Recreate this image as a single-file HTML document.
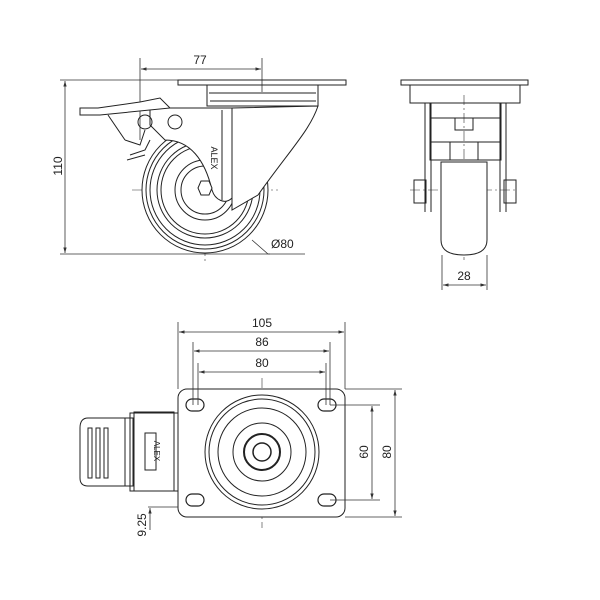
<!DOCTYPE html>
<html><head><style>body{margin:0;background:#fff}svg{display:block}text{font-family:"Liberation Sans",sans-serif;font-size:12px;fill:#222}</style></head>
<body>
<svg width="600" height="600" viewBox="0 0 600 600" xmlns="http://www.w3.org/2000/svg">
<defs>
<marker id="a" viewBox="0 0 10 10" refX="10" refY="5" markerWidth="7" markerHeight="7" orient="auto-start-reverse"><path d="M0,2 L10,5 L0,8z" fill="#333"/></marker>
</defs>
<g fill="none" stroke="#333" stroke-width="0.8">
<!-- side view dims -->
<line x1="140" y1="58" x2="140" y2="140"/><line x1="262" y1="58" x2="262" y2="92"/>
<line x1="141" y1="69" x2="261" y2="69" marker-start="url(#a)" marker-end="url(#a)"/>
<line x1="60" y1="80" x2="178" y2="80"/><line x1="60" y1="254" x2="270" y2="254"/>
<line x1="65" y1="81" x2="65" y2="253" marker-start="url(#a)" marker-end="url(#a)"/>
<polyline points="252,240 268,254 305,254"/>
<!-- centre lines -->
<g stroke-dasharray="10,3,2,3" stroke-width="0.6">
<line x1="132" y1="190" x2="278" y2="190"/><line x1="205" y1="120" x2="205" y2="262"/>
<line x1="464" y1="95" x2="464" y2="260"/><line x1="410" y1="190" x2="518" y2="190"/>
<line x1="262" y1="378" x2="262" y2="528"/><line x1="200" y1="452" x2="328" y2="452"/>
</g>
</g>
<g fill="none" stroke="#222" stroke-width="1">
<!-- side view -->
<rect x="178" y="80" width="168" height="5"/>
<rect x="207" y="85" width="111" height="21"/>
<line x1="209" y1="93" x2="316" y2="93"/><line x1="210" y1="101" x2="316" y2="101"/>
<circle cx="205" cy="190" r="63" fill="#fff"/>
<circle cx="205" cy="190" r="59"/><circle cx="205" cy="190" r="55"/>
<circle cx="205" cy="190" r="48"/><circle cx="205" cy="190" r="44"/>
<circle cx="205" cy="190" r="30"/><circle cx="205" cy="190" r="24"/>
<path d="M318,106 C310,130 290,150 258,195 L232,210 L232,108 Z" fill="#fff"/>
<path d="M150,108 L232,108 L232,198 C225,205 215,200 212,190 C205,160 190,140 165,140 L150,125 Z" fill="#fff"/>
<line x1="222" y1="110" x2="222" y2="200"/>
<polygon points="198,188 201,181 209,181 212,188 209,195 201,195" fill="#fff"/>
<circle cx="145" cy="122" r="7"/><circle cx="175" cy="122" r="7"/>
<path d="M80,108 L98,108 L140,102 L160,98 L170,108 L100,115 L80,115 Z" fill="#fff"/>
<path d="M108,115 L125,140 M125,140 L140,145 L145,130 M130,155 L145,150 L150,140"/>
<path d="M127,160 L145,155"/>
<!-- front view -->
<rect x="401" y="80" width="127" height="5"/>
<rect x="410" y="85" width="110" height="18"/>
<path d="M425,103 L425,212 M431,103 L431,212 M500,103 L500,212 M506,103 L506,212"/>
<rect x="430" y="103" width="71" height="57"/>
<line x1="430" y1="118" x2="501" y2="118"/><line x1="430" y1="142" x2="501" y2="142"/>
<rect x="455" y="118" width="18" height="12"/><rect x="450" y="142" width="28" height="18"/>
<path d="M441,162 L441,240 Q441,255 464,255 Q487,255 487,240 L487,162 Z" fill="#fff"/>
<rect x="414" y="180" width="12" height="23"/><rect x="504" y="180" width="12" height="23"/>
<!-- bottom view -->
<rect x="178" y="389" width="167" height="128" rx="9" fill="#fff"/>
<g stroke-width="1.2"><rect x="186" y="399" width="18" height="12" rx="6"/><rect x="318" y="399" width="18" height="12" rx="6"/>
<rect x="186" y="494" width="18" height="12" rx="6"/><rect x="318" y="494" width="18" height="12" rx="6"/></g>
<circle cx="262" cy="452" r="57"/><circle cx="262" cy="452" r="53"/><circle cx="262" cy="452" r="44"/>
<circle cx="262" cy="452" r="29"/><circle cx="262" cy="452" r="18" stroke-width="2"/><circle cx="262" cy="452" r="9" stroke-width="1.5"/>
<path d="M178,413 L130,413 L130,491 L178,491"/>
<path d="M125,418 L88,418 Q80,418 80,428 L80,478 Q80,486 88,486 L125,486 Z"/>
<rect x="88" y="428" width="4" height="50"/><rect x="96" y="428" width="4" height="50"/><rect x="104" y="428" width="4" height="50"/>
<rect x="125" y="418" width="8" height="68"/><rect x="134" y="412" width="40" height="79"/>
<rect x="145" y="433" width="11" height="37"/>
</g>
<g fill="none" stroke="#333" stroke-width="0.8">
<line x1="178" y1="322" x2="178" y2="389"/><line x1="345" y1="322" x2="345" y2="389"/>
<line x1="179" y1="332" x2="344" y2="332" marker-start="url(#a)" marker-end="url(#a)"/>
<line x1="193" y1="342" x2="193" y2="405"/><line x1="330" y1="342" x2="330" y2="405"/>
<line x1="194" y1="351" x2="329" y2="351" marker-start="url(#a)" marker-end="url(#a)"/>
<line x1="198" y1="363" x2="198" y2="405"/><line x1="326" y1="363" x2="326" y2="405"/>
<line x1="199" y1="372" x2="325" y2="372" marker-start="url(#a)" marker-end="url(#a)"/>
<line x1="345" y1="389" x2="402" y2="389"/><line x1="345" y1="517" x2="402" y2="517"/>
<line x1="330" y1="405" x2="380" y2="405"/><line x1="330" y1="500" x2="380" y2="500"/>
<line x1="395" y1="390" x2="395" y2="516" marker-start="url(#a)" marker-end="url(#a)"/>
<line x1="372" y1="406" x2="372" y2="499" marker-start="url(#a)" marker-end="url(#a)"/>
<line x1="442" y1="255" x2="442" y2="290"/><line x1="487" y1="255" x2="487" y2="290"/>
<line x1="443" y1="285" x2="486" y2="285" marker-start="url(#a)" marker-end="url(#a)"/>
<line x1="148" y1="507" x2="178" y2="507"/>
<line x1="150" y1="530" x2="150" y2="508" marker-end="url(#a)"/>
</g>
<text x="200" y="64" text-anchor="middle">77</text>
<text transform="translate(62,166) rotate(-90)" text-anchor="middle">110</text>
<text x="271" y="248">Ø80</text>
<text x="464" y="280" text-anchor="middle">28</text>
<text x="262" y="327" text-anchor="middle">105</text>
<text x="262" y="346" text-anchor="middle">86</text>
<text x="262" y="367" text-anchor="middle">80</text>
<text transform="translate(368,452) rotate(-90)" text-anchor="middle">60</text>
<text transform="translate(391,452) rotate(-90)" text-anchor="middle">80</text>
<text transform="translate(146,525) rotate(-90)" text-anchor="middle">9.25</text>
<text transform="translate(154,451) rotate(90)" text-anchor="middle" style="font-size:8px">ALEX</text>
<text transform="translate(211,158) rotate(90)" text-anchor="middle" style="font-size:9px">ALEX</text>
</svg>
</body></html>
